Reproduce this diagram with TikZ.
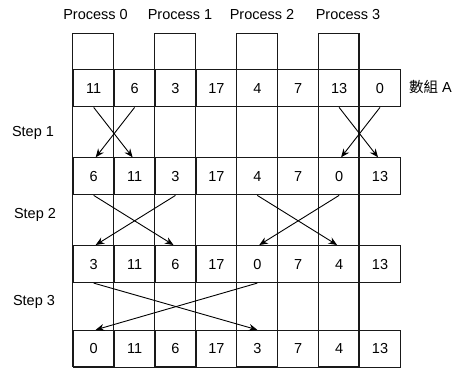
\documentclass[tikz,border=0pt]{standalone}
\usepackage{fontspec}
\setmainfont{Liberation Sans}
\newfontfamily\cjk{Noto Sans CJK TC}
\usetikzlibrary{arrows.meta}
\begin{document}
\begin{tikzpicture}[x=1pt,y=-1pt,
  every node/.style={font=\fontsize{14.5}{17}\selectfont, text=black},
  box/.style={draw=black!90, line width=1.1pt},
  cell/.style={box, minimum width=40.9pt, minimum height=37pt, inner sep=0pt, anchor=north west},
  arr/.style={line width=0.9pt, -{Stealth[length=8.5pt,width=7pt]}},
  lbl/.style={inner sep=0pt}]
\useasboundingbox (0,0) rectangle (471,369);
\def\xo{72.7}\def\cw{40.9}
% tall process columns
\foreach \k in {0,2,4,6}{
  \draw[box] ({\xo+\k*\cw},33.3) rectangle ({\xo+(\k+1)*\cw},366.8);
}
% rows of cells
\foreach \r/\yt/\vals in {1/69.3/{11,6,3,17,4,7,13,0},
                          2/157.3/{6,11,3,17,4,7,0,13},
                          3/245/{3,11,6,17,0,7,4,13},
                          4/329.8/{0,11,6,17,3,7,4,13}}{
  \foreach \v [count=\i from 0] in \vals {
    \node[cell] (r\r c\i) at ({\xo+\i*\cw},\yt) {\v};
  }
}
% labels
\node[lbl] (p0) at (95.5,15) {Process 0};
\node[lbl] (p1) at (180,15) {Process 1};
\node[lbl] (p2) at (262,15) {Process 2};
\node[lbl] (p3) at (348,15) {Process 3};
\node[lbl, anchor=west] (arrA) at (409,87) {{\cjk 數組} A};
\node[lbl] (s1) at (33,132.7) {Step 1};
\node[lbl] (s2) at (35,215) {Step 2};
\node[lbl] (s3) at (34,301.7) {Step 3};
% Step 1
\draw[arr] (r1c0.south) -- ([xshift=-2pt]r2c1.north);
\draw[arr] (r1c1.south) -- ([xshift=2pt]r2c0.north);
\draw[arr] (r1c6.south) -- ([xshift=-2pt]r2c7.north);
\draw[arr] (r1c7.south) -- ([xshift=2pt]r2c6.north);
% Step 2
\draw[arr] (r2c0.south) -- ([xshift=-2pt]r3c2.north);
\draw[arr] (r2c2.south) -- ([xshift=2pt]r3c0.north);
\draw[arr] (r2c4.south) -- ([xshift=-2pt]r3c6.north);
\draw[arr] (r2c6.south) -- ([xshift=2pt]r3c4.north);
% Step 3
\draw[arr] (r3c0.south) -- (r4c4.north);
\draw[arr] (r3c4.south) -- ([xshift=2pt]r4c0.north);
\end{tikzpicture}
\end{document}
